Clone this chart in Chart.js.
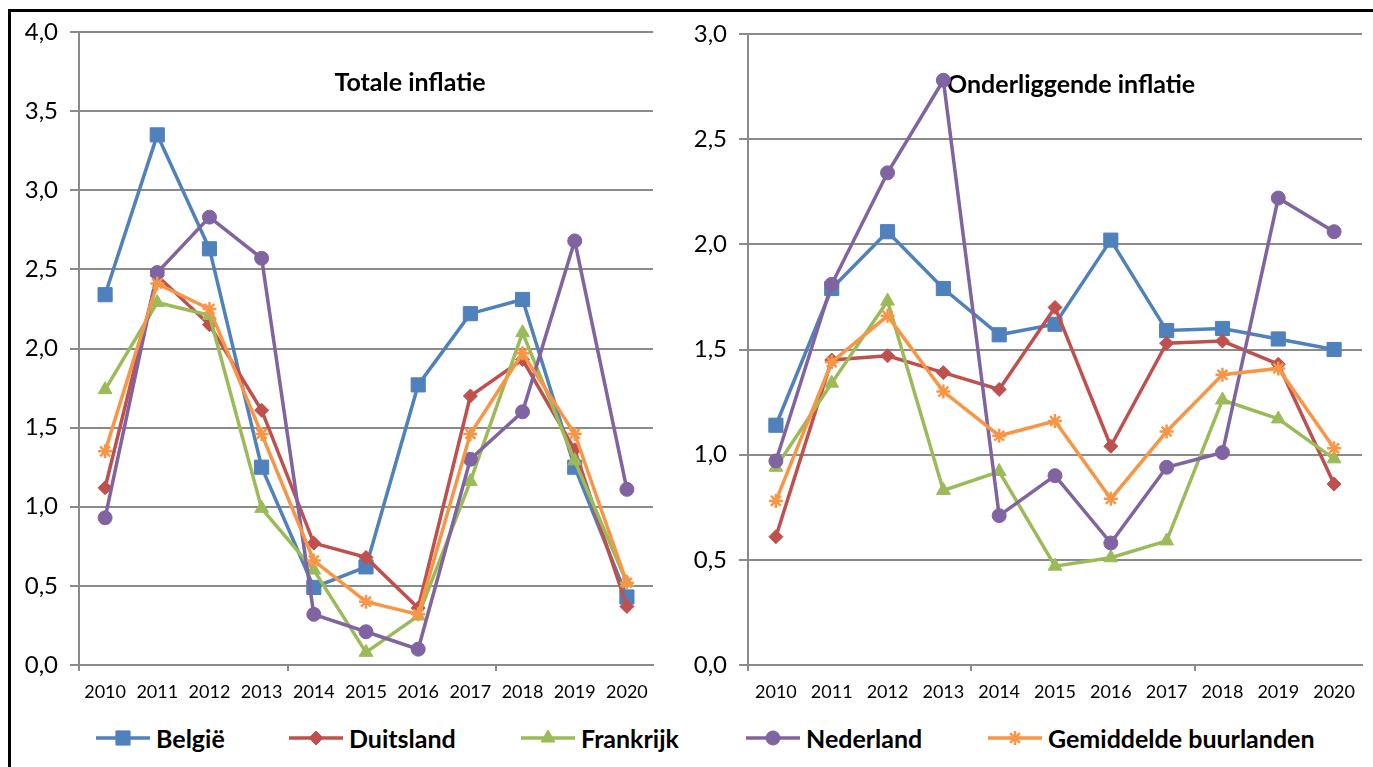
<!DOCTYPE html>
<html lang="nl">
<head>
<meta charset="utf-8">
<title>Inflatie België en buurlanden</title>
<script src="https://cdn.jsdelivr.net/npm/chart.js@4.4.1/dist/chart.umd.min.js"></script>
<style>
    html, body { margin: 0; padding: 0; background: #fff; }
    body { width: 1373px; height: 767px; position: relative; overflow: hidden; font-family: Lato, 'Open Sans', sans-serif; }
    .frame { position: absolute; left: 8px; top: 9px; width: 1400px; height: 800px; border-top: 3px solid #000; border-left: 3px solid #000; }
    .panel { position: absolute; top: 0; }
    #left { left: 0; }
    #right { left: 690px; }
    .legend-item { position: absolute; top: 724px; height: 28px; display: flex; align-items: center; white-space: nowrap; }
    .legend-item span { margin-left: 5px; font: bold 25px Lato, sans-serif; color: #000; }
</style>
</head>
<body>
<div class="frame"></div>
<canvas id="left" class="panel" width="690" height="720"></canvas>
<canvas id="right" class="panel" width="683" height="720"></canvas>
<div id="legend"></div>

<script>
// Years on the x axis
const years = ['2010', '2011', '2012', '2013', '2014', '2015', '2016', '2017', '2018', '2019', '2020'];

// Series names as in the legend
const seriesNames = ['België', 'Duitsland', 'Frankrijk', 'Nederland', 'Gemiddelde buurlanden'];

// Totale inflatie (left panel)
const totBelgie     = [2.34, 3.35, 2.63, 1.25, 0.49, 0.62, 1.77, 2.22, 2.31, 1.25, 0.43];
const totDuitsland  = [1.12, 2.46, 2.15, 1.61, 0.77, 0.68, 0.36, 1.70, 1.93, 1.36, 0.37];
const totFrankrijk  = [1.74, 2.29, 2.21, 0.99, 0.60, 0.08, 0.31, 1.16, 2.10, 1.29, 0.52];
const totNederland  = [0.93, 2.48, 2.83, 2.57, 0.32, 0.21, 0.10, 1.30, 1.60, 2.68, 1.11];
const totGemiddeld  = [1.35, 2.41, 2.25, 1.46, 0.66, 0.40, 0.32, 1.46, 1.97, 1.46, 0.52];

// Onderliggende inflatie (right panel)
const ondBelgie     = [1.14, 1.79, 2.06, 1.79, 1.57, 1.62, 2.02, 1.59, 1.60, 1.55, 1.50];
const ondDuitsland  = [0.61, 1.45, 1.47, 1.39, 1.31, 1.70, 1.04, 1.53, 1.54, 1.43, 0.86];
const ondFrankrijk  = [0.94, 1.34, 1.73, 0.83, 0.92, 0.47, 0.51, 0.59, 1.26, 1.17, 0.98];
const ondNederland  = [0.97, 1.81, 2.34, 2.78, 0.71, 0.90, 0.58, 0.94, 1.01, 2.22, 2.06];
const ondGemiddeld  = [0.78, 1.44, 1.66, 1.30, 1.09, 1.16, 0.79, 1.11, 1.38, 1.41, 1.03];

// Look of each series (Excel 2007 palette)
const seriesColors = ['#4F81BD', '#C0504D', '#9BBB59', '#8064A2', '#F79646'];
const seriesMarkers = ['rect', 'rectRot', 'triangle', 'circle', 'star'];
const markerRadius = [10, 7, 8, 7, 7];

// Left edge of each legend entry
const legendLeft = [95, 288, 520, 745, 987];

const gridGray = '#8a8a8a';

/**
 * Draws the panel title under the lines
 */
const panelTitle = {
    id: 'panelTitle',
    beforeDatasetsDraw(chart, args, opts) {
        const ctx = chart.ctx;
        ctx.save();
        ctx.font = 'bold 25px Lato, sans-serif';
        ctx.fillStyle = '#000';
        ctx.textAlign = opts.align;
        ctx.textBaseline = 'middle';
        ctx.fillText(opts.text, opts.x, opts.y);
        ctx.restore();
    }
};

function commaLabel(value) {
    return value.toFixed(1).replace('.', ',');
}

function buildDatasets(valueLists) {
    return valueLists.map((values, i) => ({
        label: seriesNames[i],
        data: values,
        borderColor: seriesColors[i],
        backgroundColor: seriesColors[i],
        borderWidth: 3.5,
        pointStyle: seriesMarkers[i],
        pointRadius: markerRadius[i],
        pointBackgroundColor: seriesColors[i],
        pointBorderColor: seriesColors[i],
        pointBorderWidth: seriesMarkers[i] === 'star' ? 2.5 : 1,
        tension: 0,
        // later series sit on top, like the original
        order: seriesNames.length - i
    }));
}

function makePanel(canvasId, valueLists, yMax, setup) {
    return new Chart(document.getElementById(canvasId), {
        type: 'line',
        data: { labels: years, datasets: buildDatasets(valueLists) },
        plugins: [panelTitle],
        options: {
            responsive: false,
            animation: false,
            events: [],
            layout: { padding: setup.padding },
            plugins: {
                legend: { display: false },
                tooltip: { enabled: false },
                panelTitle: setup.title
            },
            scales: {
                x: {
                    offset: true,
                    afterFit: scale => { scale.height = 55; },
                    grid: {
                        offset: true,
                        drawOnChartArea: false,
                        tickLength: 6,
                        lineWidth: 2,
                        color: c => (c.index === 0 || c.index === 4 || c.index === 8) ? gridGray : 'rgba(0,0,0,0)'
                    },
                    border: { color: gridGray, width: 2 },
                    ticks: {
                        color: '#000',
                        padding: 10,
                        maxRotation: 0,
                        autoSkip: false,
                        font: { family: 'Lato', size: 18 }
                    }
                },
                y: {
                    min: 0,
                    max: yMax,
                    afterFit: scale => { scale.width = setup.yWidth; },
                    grid: { color: gridGray, lineWidth: 2, tickLength: 9 },
                    border: { color: gridGray, width: 2 },
                    ticks: {
                        stepSize: 0.5,
                        color: '#000',
                        padding: 12,
                        font: { family: 'Lato', size: 24 },
                        callback: v => commaLabel(v)
                    }
                }
            }
        }
    });
}

makePanel('left', [totBelgie, totDuitsland, totFrankrijk, totNederland, totGemiddeld], 4, {
    padding: { left: 12, top: 32, right: 37, bottom: 0 },
    yWidth: 67,
    title: { text: 'Totale inflatie', x: 410, y: 83, align: 'center' }
});

makePanel('right', [ondBelgie, ondDuitsland, ondFrankrijk, ondNederland, ondGemiddeld], 3, {
    padding: { left: 0, top: 34, right: 2, bottom: 0 },
    yWidth: 58,
    title: { text: 'Onderliggende inflatie', x: 257, y: 85, align: 'left' }
});

/**
 * Shared legend below both panels
 */
function buildLegend() {
    const legend = document.getElementById('legend');
    seriesNames.forEach((name, i) => {
        const item = document.createElement('div');
        item.className = 'legend-item';
        item.style.left = legendLeft[i] + 'px';
        const sample = document.createElement('canvas');
        sample.width = 56;
        sample.height = 22;
        const ctx = sample.getContext('2d');
        ctx.strokeStyle = seriesColors[i];
        ctx.fillStyle = seriesColors[i];
        ctx.lineWidth = 3.5;
        ctx.beginPath();
        ctx.moveTo(1, 11);
        ctx.lineTo(55, 11);
        ctx.stroke();
        ctx.lineWidth = seriesMarkers[i] === 'star' ? 2.5 : 1;
        Chart.helpers.drawPoint(ctx, {
            pointStyle: seriesMarkers[i],
            radius: markerRadius[i],
            rotation: 0,
            borderWidth: ctx.lineWidth
        }, 28, 11);
        const label = document.createElement('span');
        label.textContent = name;
        item.appendChild(sample);
        item.appendChild(label);
        legend.appendChild(item);
    });
}

buildLegend();
</script>
</body>
</html>
